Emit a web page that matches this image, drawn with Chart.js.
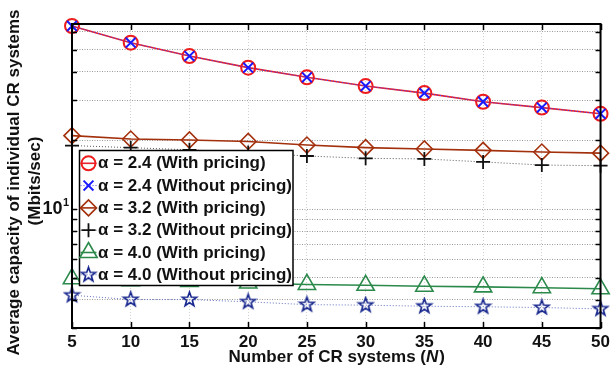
<!DOCTYPE html>
<html><head><meta charset="utf-8">
<script src="https://cdn.jsdelivr.net/npm/chart.js@4.4.0/dist/chart.umd.min.js"></script>
<style>html,body{margin:0;padding:0;background:#fff;}canvas{display:block;}</style>
</head><body>
<canvas id="c" width="614" height="369"></canvas>
<script>
// ---- data ----
const N = [5,10,15,20,25,30,35,40,45,50];
const cap24With    = [63.7,53.8,47.0,41.8,37.9,34.7,32.3,29.6,27.9,26.2];
const cap24Without = [63.7,53.8,47.0,41.8,37.9,34.7,32.3,29.6,27.9,26.2];
const cap32With    = [21.0,20.3,20.1,19.8,19.1,18.6,18.35,18.1,17.8,17.6];
const cap32Without = [19.0,18.6,18.2,17.7,17.1,16.7,16.6,16.1,15.6,15.5];
const cap40With    = [4.94,4.84,4.80,4.73,4.66,4.62,4.58,4.55,4.51,4.46];
const cap40Without = [4.18,4.00,4.00,3.91,3.80,3.78,3.74,3.72,3.69,3.64];
const seriesLabels = [
  'α = 2.4 (With pricing)','α = 2.4 (Without pricing)',
  'α = 3.2 (With pricing)','α = 3.2 (Without pricing)',
  'α = 4.0 (With pricing)','α = 4.0 (Without pricing)'
];
const xTickValues = [5,10,15,20,25,30,35,40,45,50];
const yTickValues = [3,4,5,6,7,8,9,10,20,30,40,50,60];
const yLabelTicks = [{value:10, base:'10', exp:'1'}];
const xTitle = ['Number of CR systems (','N',')'];
const yTitle = ['Average capacity of individual CR systems','(Mbits/sec)'];

const FONT = '"Liberation Sans", Arial, Helvetica, sans-serif';

function makeStar(color, R){
  const s = Math.ceil(2*R+4);
  const c = document.createElement('canvas'); c.width=s; c.height=s;
  const g = c.getContext('2d'); g.translate(s/2,s/2);
  g.beginPath();
  for(let k=0;k<10;k++){
    const r = (k%2)? R*0.4 : R;
    const a = -Math.PI/2 + k*Math.PI/5;
    g.lineTo(r*Math.cos(a), r*Math.sin(a));
  }
  g.closePath(); g.strokeStyle=color; g.lineWidth=1.6; g.lineJoin='miter'; g.stroke();
  return c;
}
const starImg = makeStar('#14248c', 7.5);

const pts = arr => N.map((n,i)=>({x:n, y:arr[i]}));
const styles = [
  {data:cap24With,    color:'#ee1c1c', line:'#e8202a', dash:[],    lw:1.6, ps:'circle',   r:7,   pw:2},
  {data:cap24Without, color:'#1a1aff', line:'#4040ff', dash:[1,2], lw:1,   ps:'crossRot', r:7,   pw:2},
  {data:cap32With,    color:'#a3300c', line:'#a3300c', dash:[],    lw:1.6, ps:'rectRot',  r:8,   pw:1.6},
  {data:cap32Without, color:'#111111', line:'#555555', dash:[1,2], lw:1,   ps:'cross',    r:7,   pw:1.8},
  {data:cap40With,    color:'#2b8a4b', line:'#2b8a4b', dash:[],    lw:1.6, ps:'triangle', r:10,  pw:1.6},
  {data:cap40Without, color:'#14248c', line:'#6070c0', dash:[1,2], lw:1,   ps:starImg,    r:8,   pw:1.6}
];
const datasets = styles.map((s,i)=>({
  label: seriesLabels[i], data: pts(s.data),
  borderColor: s.line, borderWidth: s.lw, borderDash: s.dash,
  pointStyle: s.ps, pointRadius: s.r, pointBorderColor: s.color, pointBorderWidth: s.pw,
  pointBackgroundColor: 'rgba(0,0,0,0)', pointHoverRadius: s.r,
  fill:false, tension:0, clip:false, order: 6-i
}));

const frame = {
  id:'frame',
  afterDatasetsDraw(chart){
    const ctx=chart.ctx; const {left,right,top,bottom}=chart.chartArea;
    ctx.save();
    ctx.strokeStyle='#000'; ctx.lineWidth=1.5;
    const xs=chart.scales.x, ys=chart.scales.y;
    ctx.beginPath();
    xTickValues.forEach(v=>{const p=Math.round(xs.getPixelForValue(v))+0.5;
      ctx.moveTo(p,bottom); ctx.lineTo(p,bottom-6); ctx.moveTo(p,top); ctx.lineTo(p,top+6);});
    yTickValues.forEach(v=>{const p=Math.round(ys.getPixelForValue(v))+0.5;
      ctx.moveTo(left,p); ctx.lineTo(left+5,p); ctx.moveTo(right,p); ctx.lineTo(right-5,p);});
    ctx.stroke();
    ctx.lineWidth=2; ctx.strokeRect(left,top,right-left,bottom-top);
    // y tick label 10^1 with real superscript
    ctx.fillStyle='#111'; ctx.textBaseline='middle';
    yLabelTicks.forEach(t=>{
      const p=ys.getPixelForValue(t.value);
      ctx.font='bold 18px '+FONT; ctx.textAlign='right'; ctx.fillText(t.base, left-9.5, p+0.5);
      ctx.font='bold 11px '+FONT; ctx.textAlign='left'; ctx.fillText(t.exp, left-9, p-6);
    });
    ctx.restore();
  },
  afterDraw(chart){
    const ctx=chart.ctx; const {left,right}=chart.chartArea;
    ctx.save();
    // legend box
    const ds=chart.data.datasets;
    const bx=79.5, by=150.5, bw=213.5, bh=135;
    ctx.fillStyle='#fff'; ctx.fillRect(bx,by,bw,bh);
    ctx.strokeStyle='#000'; ctx.lineWidth=1.5; ctx.strokeRect(bx,by,bw,bh);
    ds.forEach((d,i)=>{
      const cy = by+12.8+i*22.3, cx = bx+9;
      ctx.save(); ctx.strokeStyle=d.borderColor; ctx.lineWidth=d.borderWidth; ctx.setLineDash(d.borderDash);
      ctx.beginPath(); ctx.moveTo(cx-8,cy); ctx.lineTo(cx+8,cy); ctx.stroke(); ctx.restore();
      ctx.save(); ctx.strokeStyle=d.pointBorderColor; ctx.fillStyle=d.pointBackgroundColor; ctx.lineWidth=d.pointBorderWidth;
      Chart.helpers.drawPoint(ctx,{pointStyle:d.pointStyle, radius:d.pointRadius, rotation:0, borderWidth:d.pointBorderWidth}, cx, cy);
      ctx.restore();
      ctx.fillStyle='#111'; ctx.font='bold 17px '+FONT; ctx.textBaseline='middle'; ctx.textAlign='left';
      ctx.fillText(d.label, bx+18.5, cy+0.5);
    });
    // x title with italic N
    const fb='bold 17px '+FONT, fi='italic bold 17px '+FONT;
    ctx.fillStyle='#111'; ctx.textBaseline='middle'; ctx.textAlign='left';
    ctx.font=fb; const w0=ctx.measureText(xTitle[0]).width, w2=ctx.measureText(xTitle[2]).width;
    ctx.font=fi; const w1=ctx.measureText(xTitle[1]).width;
    let x0=(left+right)/2-(w0+w1+w2)/2; const ty=357;
    ctx.font=fb; ctx.fillText(xTitle[0],x0,ty);
    ctx.font=fi; ctx.fillText(xTitle[1],x0+w0,ty);
    ctx.font=fb; ctx.fillText(xTitle[2],x0+w0+w1+1,ty);
    // y title (two lines, rotated)
    ctx.font=fb; ctx.textAlign='center';
    ctx.save(); ctx.translate(14,182.5); ctx.rotate(-Math.PI/2); ctx.fillText(yTitle[0],0,0); ctx.restore();
    ctx.save(); ctx.translate(35.5,181); ctx.rotate(-Math.PI/2); ctx.fillText(yTitle[1],0,0); ctx.restore();
    ctx.restore();
  }
};

new Chart(document.getElementById('c'), {
  type:'line',
  data:{datasets},
  options:{
    responsive:false, animation:false, devicePixelRatio:1,
    layout:{padding:{left:0,top:24,right:11,bottom:0}},
    plugins:{legend:{display:false}, tooltip:{enabled:false}},
    elements:{line:{tension:0}},
    scales:{
      x:{type:'linear', min:5, max:50,
        afterBuildTicks(s){ s.ticks = xTickValues.map(v=>({value:v})); },
        afterFit(s){ s.height = 41; },
        ticks:{autoSkip:false, maxRotation:0, padding:4, color:'#111', font:{family:FONT, size:17, weight:'bold'}},
        grid:{color:'#d0d0d0', lineWidth:1, drawTicks:false},
        border:{display:false, dash:[1,2]}
      },
      y:{type:'logarithmic', min:3, max:65,
        afterBuildTicks(s){ s.ticks = yTickValues.map(v=>({value:v, major:v===10})); },
        afterFit(s){ s.width = 72; },
        ticks:{autoSkip:false, padding:6, color:'#111', font:{family:FONT, size:17, weight:'bold'},
          callback:()=> ''},
        grid:{color:'#9a9a9a', lineWidth:1, drawTicks:false},
        border:{display:false, dash:[1,1.5]}
      }
    }
  },
  plugins:[frame]
});
</script>
</body></html>
